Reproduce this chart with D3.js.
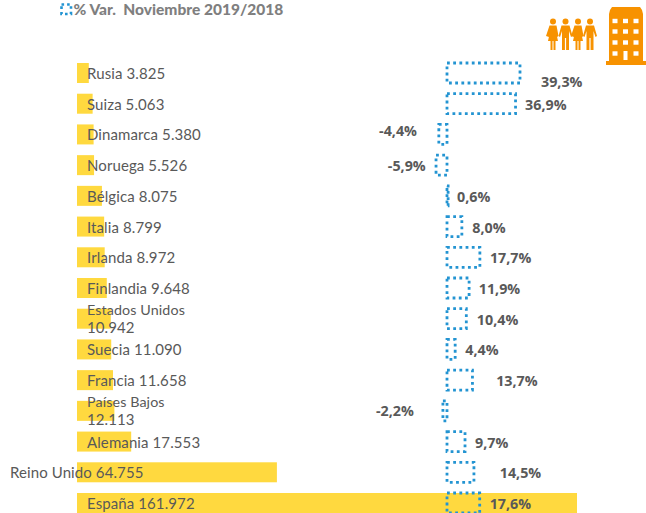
<!DOCTYPE html>
<html>
<head>
<meta charset="utf-8">
<script src="https://cdn.jsdelivr.net/npm/d3@7"></script>
<style>
  html, body { margin: 0; padding: 0; background: #fff; overflow: hidden; }
  .name { font-family: Lato, sans-serif; font-size: 15px; letter-spacing: 0.1px; fill: #595959; }
  .pct { font-family: "Open Sans", sans-serif; font-size: 14.3px; font-weight: 700; fill: #595959; }
  .title { font-family: Lato, sans-serif; font-size: 15.5px; font-weight: 900; fill: #7f7f7f; }
</style>
</head>
<body>
<svg id="chart" width="646" height="513"></svg>
<script>
const countries = ['Rusia', 'Suiza', 'Dinamarca', 'Noruega', 'Bélgica', 'Italia', 'Irlanda', 'Finlandia',
  'Estados Unidos', 'Suecia', 'Francia', 'Países Bajos', 'Alemania', 'Reino Unido', 'España'];
const visitors = [3825, 5063, 5380, 5526, 8075, 8799, 8972, 9648, 10942, 11090, 11658, 12113, 17553, 64755, 161972];
const variation = [39.3, 36.9, -4.4, -5.9, 0.6, 8.0, 17.7, 11.9, 10.4, 4.4, 13.7, -2.2, 9.7, 14.5, 17.6];

// hand-placed labels in the original, so these are just offsets from the default spot
const pctGap = [21, 9.5, 21.8, 10.3, 9, 10.4, 10, 9.6, 10.5, 10.2, 23.7, 29.1, 10, 25.8, 10];
const pctDy = [8, 0, -4, 0, 0, 0, 0, 0, 0, 0, 0, -1, 0, 0, 0];

const svg = d3.select('#chart');
const fmt = d3.formatLocale({ decimal: ',', thousands: '.', grouping: [3], currency: ['', ''], minus: '-' });
const fmtInt = fmt.format(',d');
const fmtPct = fmt.format('.1f');

const y = d3.scaleBand().domain(countries).range([63, 513]).paddingInner(0.349);
const xVisitors = d3.scaleLinear().domain([0, 161972]).range([77, 577]);
const xVar = d3.scaleLinear().domain([0, 39.3]).range([447, 520]);

// yellow bars
svg.append('g').selectAll('rect')
  .data(countries)
  .enter().append('rect')
  .attr('x', xVisitors(0))
  .attr('y', d => y(d))
  .attr('width', (d, i) => xVisitors(visitors[i]) - xVisitors(0))
  .attr('height', y.bandwidth())
  .attr('fill', '#ffd93f');

// dotted variation bars
svg.append('g').selectAll('rect')
  .data(countries)
  .enter().append('rect')
  .attr('x', (d, i) => Math.min(xVar(0), xVar(variation[i])))
  .attr('y', d => y(d))
  .attr('width', (d, i) => Math.abs(xVar(variation[i]) - xVar(0)))
  .attr('height', y.bandwidth())
  .attr('fill', 'none')
  .attr('stroke', '#2394d2')
  .attr('stroke-width', 2.8)
  .attr('stroke-dasharray', '2.8 3.4');

// country labels, long ones wrap on two lines
const names = svg.append('g').selectAll('text')
  .data(countries)
  .enter().append('text')
  .attr('class', 'name')
  .attr('x', d => d === 'Reino Unido' ? 10 : 87)
  .attr('y', d => y(d) + y.bandwidth() / 2 + 6);

names.each(function (d, i) {
  const t = d3.select(this);
  const val = fmtInt(visitors[i]);
  if (d === 'Estados Unidos' || d === 'Países Bajos') {
    t.append('tspan').attr('x', 87).attr('dy', -9.5).style('font-size', '14.3px').text(d);
    t.append('tspan').attr('x', 87).attr('dy', 17.5).text(val);
  } else {
    t.text(d + ' ' + val);
  }
});

// percentage labels
svg.append('g').selectAll('text')
  .data(countries)
  .enter().append('text')
  .attr('class', 'pct')
  .attr('x', (d, i) => xVar(variation[i]) + (variation[i] < 0 ? -pctGap[i] : pctGap[i]))
  .attr('y', (d, i) => y(d) + y.bandwidth() / 2 + 6 + pctDy[i])
  .attr('text-anchor', (d, i) => variation[i] < 0 ? 'end' : 'start')
  .text((d, i) => fmtPct(variation[i]) + '%');

// title with its small legend key
svg.append('rect')
  .attr('x', 61.5).attr('y', 4.5).attr('width', 9.5).attr('height', 9.5)
  .attr('fill', 'none')
  .attr('stroke', '#2394d2')
  .attr('stroke-width', 2.6)
  .attr('stroke-dasharray', '2.6 3');
svg.append('text')
  .attr('class', 'title')
  .attr('x', 73.5).attr('y', 15)
  .attr('xml:space', 'preserve')
  .text('% Var.  Noviembre 2019/2018');

// people icon
const orange = '#f79200';
const people = svg.append('g').attr('fill', orange);
[553, 565.5, 578, 590].forEach((cx, i) => {
  const g = people.append('g').attr('transform', `translate(${cx},0)`);
  g.append('circle').attr('cx', 0).attr('cy', 21.5).attr('r', 3);
  if (i % 2 === 0) {
    g.append('path').attr('d', 'M-3.5,25.5 L3.5,25.5 L5.5,36 L4,37 L2.8,31 L5,41 L2.5,41 L2.5,50 L0.5,50 L0.5,41 L-0.5,41 L-0.5,50 L-2.5,50 L-2.5,41 L-5,41 L-2.8,31 L-4,37 L-7,36 Z');
  } else {
    g.append('path').attr('d', 'M-4,25.5 L4,25.5 L7,36 L5.5,37 L3.5,31 L3.5,50 L0.6,50 L0.6,38 L-0.6,38 L-0.6,50 L-3.5,50 L-3.5,31 L-5.5,37 L-7,36 Z');
  }
});

// building icon
const bld = svg.append('g');
bld.append('path').attr('fill', orange)
  .attr('d', 'M612,7 L640,7 L642,10 L643,14 L643,61 L646,61 L646,65 L606,65 L606,61 L609,61 L609,14 L610,10 Z');
[615, 625.5, 636].forEach(wx => {
  [21, 31.5, 42.5, 53.5].forEach(wy => {
    if (wx === 625.5 && wy === 53.5) return;
    bld.append('rect').attr('x', wx - 2.5).attr('y', wy - 2.2).attr('width', 5).attr('height', 4.4).attr('fill', '#fff');
  });
});
bld.append('rect').attr('x', 623.5).attr('y', 51).attr('width', 4).attr('height', 9).attr('fill', '#fff');
</script>
</body>
</html>
